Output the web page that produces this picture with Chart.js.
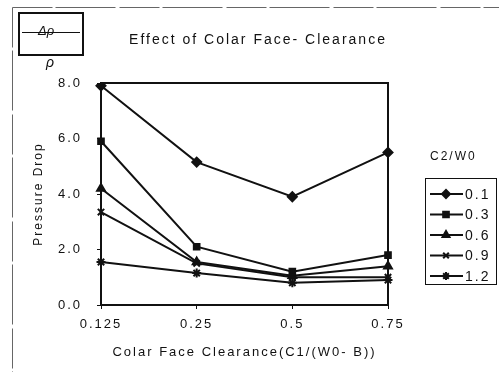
<!DOCTYPE html>
<html>
<head>
<meta charset="utf-8">
<script src="https://cdn.jsdelivr.net/npm/chart.js@4.4.1/dist/chart.umd.min.js"></script>
<style>
  html, body { margin: 0; padding: 0; background: #fff; }
  #wrap { width: 499px; height: 375px; }
</style>
</head>
<body>
<div id="wrap"><canvas id="grafica"></canvas></div>
<script>
// Datos
const categorias = ['0.125', '0.25', '0.5', '0.75'];
const nombresSerie = ['0.1', '0.3', '0.6', '0.9', '1.2'];
const serie01 = [7.9, 5.15, 3.9, 5.5];
const serie03 = [5.9, 2.1, 1.2, 1.8];
const serie06 = [4.2, 1.55, 1.05, 1.4];
const serie09 = [3.35, 1.5, 1.0, 1.0];
const serie12 = [1.55, 1.15, 0.8, 0.9];
const ticksY = [0, 2, 4, 6, 8];
const marcadores = ['rectRot', 'rect', 'triangle', 'crossRot', 'star'];
const titulo = 'Effect of Colar Face- Clearance';
const tituloLeyenda = 'C2/W0';

const valores = [serie01, serie03, serie06, serie09, serie12];
const FUENTE = "'Liberation Sans', Arial, sans-serif";
const TINTA = '#111';

const datasets = valores.map((v, i) => ({
    label: nombresSerie[i],
    data: v,
    borderColor: TINTA,
    backgroundColor: TINTA,
    borderWidth: 2,
    pointStyle: marcadores[i],
    pointRadius: i === 1 ? 4 : 4.5,
    pointBackgroundColor: TINTA,
    pointBorderColor: TINTA,
    pointBorderWidth: 2,
    tension: 0,
    fill: false
}));

// espaciado de letras como en el original escaneado
const espaciado = {
    id: 'espaciado',
    beforeLayout(chart) { chart.ctx.letterSpacing = '2px'; },
    beforeDraw(chart) { chart.ctx.letterSpacing = '2px'; }
};

// titulo, marco, caja de delta rho, borde del area y leyenda
const decoracion = {
    id: 'decoracion',
    afterDraw(chart) {
        const ctx = chart.ctx;
        const a = chart.chartArea;
        ctx.save();
        ctx.letterSpacing = '0px';

        // marco exterior (izquierda y arriba)
        ctx.strokeStyle = '#666';
        ctx.lineWidth = 1;
        ctx.setLineDash([40, 3, 60, 4]);
        ctx.beginPath();
        ctx.moveTo(12.5, 7.5); ctx.lineTo(499, 7.5);
        ctx.moveTo(12.5, 7.5); ctx.lineTo(12.5, 372);
        ctx.stroke();
        ctx.setLineDash([]);

        // caja delta rho / rho
        ctx.strokeStyle = TINTA;
        ctx.lineWidth = 2;
        ctx.strokeRect(19, 13, 64, 42);
        ctx.lineWidth = 1;
        ctx.beginPath();
        ctx.moveTo(22, 32.5); ctx.lineTo(80, 32.5);
        ctx.stroke();
        ctx.fillStyle = TINTA;
        ctx.font = 'italic 13px ' + FUENTE;
        ctx.textAlign = 'center';
        ctx.textBaseline = 'middle';
        ctx.fillText('\u0394\u03C1', 46, 31);
        ctx.font = 'italic 14px ' + FUENTE;
        ctx.fillText('\u03C1', 50, 63);

        // titulo
        ctx.letterSpacing = '2px';
        ctx.font = '14px ' + FUENTE;
        ctx.fillText(titulo, 258, 40);

        // borde superior y derecho del area
        ctx.lineWidth = 2;
        ctx.beginPath();
        ctx.moveTo(a.left, a.top); ctx.lineTo(a.right, a.top); ctx.lineTo(a.right, a.bottom);
        ctx.stroke();

        // leyenda
        ctx.font = '12px ' + FUENTE;
        ctx.textAlign = 'left';
        ctx.fillText(tituloLeyenda, 430, 157);
        ctx.lineWidth = 1;
        ctx.strokeRect(425.5, 178.5, 71, 106);
        chart.data.datasets.forEach((ds, i) => {
            const y = 194 + i * 20.5;
            ctx.strokeStyle = TINTA;
            ctx.lineWidth = 2;
            ctx.beginPath();
            ctx.moveTo(430, y); ctx.lineTo(463, y);
            ctx.stroke();
            if (Chart.helpers && Chart.helpers.drawPoint) {
                ctx.fillStyle = TINTA;
                Chart.helpers.drawPoint(ctx, {
                    pointStyle: ds.pointStyle, radius: 4, rotation: 0, borderWidth: 2
                }, 446, y);
            }
            ctx.fillStyle = TINTA;
            ctx.font = '14px ' + FUENTE;
            ctx.fillText(ds.label, 465, y + 1);
        });
        ctx.restore();
    }
};

new Chart(document.getElementById('grafica'), {
    type: 'line',
    data: { labels: categorias, datasets: datasets },
    options: {
        responsive: true,
        maintainAspectRatio: false,
        animation: false,
        layout: { padding: { left: 0, right: 111, top: 83, bottom: 0 } },
        plugins: {
            legend: { display: false },
            tooltip: { enabled: false },
            title: { display: false }
        },
        scales: {
            x: {
                type: 'category',
                offset: false,
                afterFit: s => { s.height = 70; },
                grid: { display: true, drawOnChartArea: false, drawTicks: true, tickLength: 4, color: TINTA },
                border: { display: true, color: TINTA, width: 2 },
                ticks: { color: TINTA, padding: 8, font: { family: FUENTE, size: 13 } },
                title: {
                    display: true,
                    text: 'Colar Face Clearance(C1/(W0- B))',
                    color: TINTA,
                    font: { family: FUENTE, size: 13 },
                    padding: { top: 0, bottom: 15 }
                }
            },
            y: {
                min: 0,
                max: 8,
                afterFit: s => { s.width = 101; },
                afterBuildTicks: s => { s.ticks = ticksY.map(v => ({ value: v })); },
                grid: { display: true, drawOnChartArea: false, drawTicks: true, tickLength: 4, color: TINTA },
                border: { display: true, color: TINTA, width: 2 },
                ticks: {
                    color: TINTA,
                    padding: 15,
                    font: { family: FUENTE, size: 13 },
                    callback: v => Number(v).toFixed(1)
                },
                title: {
                    display: true,
                    text: 'Pressure Drop',
                    color: TINTA,
                    font: { family: FUENTE, size: 12 },
                    padding: { top: 31, bottom: 0 }
                }
            }
        }
    },
    plugins: [espaciado, decoracion]
});
</script>
</body>
</html>
